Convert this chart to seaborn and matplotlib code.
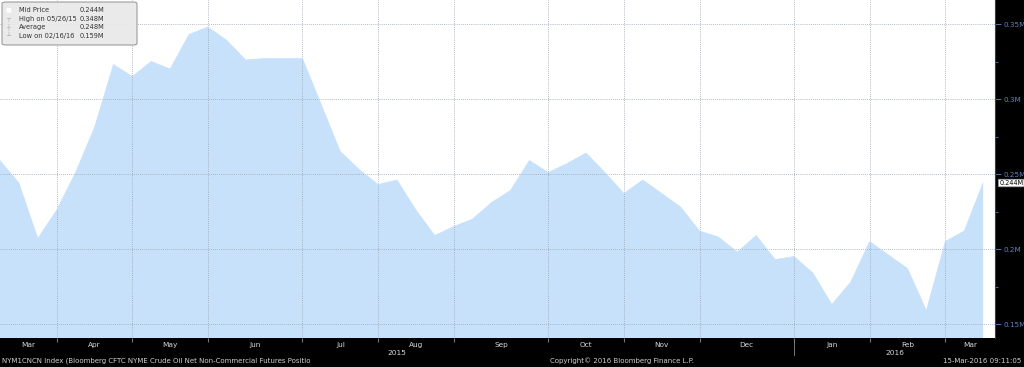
import pandas as pd
import matplotlib
matplotlib.use('Agg')
import matplotlib.pyplot as plt
import matplotlib.transforms as mtransforms
from matplotlib.patches import FancyBboxPatch
import seaborn as sns

# Weekly CFTC as-of dates (Tuesdays) and net non-commercial positions, in millions
start_date = '2015-03-10'
positions = [0.259, 0.244, 0.207, 0.226, 0.251, 0.281, 0.323, 0.315, 0.325, 0.320,
             0.343, 0.348, 0.339, 0.326, 0.327, 0.327, 0.327, 0.296, 0.265, 0.253,
             0.243, 0.246, 0.226, 0.209, 0.215, 0.220, 0.231, 0.239, 0.259, 0.251,
             0.257, 0.264, 0.251, 0.237, 0.246, 0.237, 0.228, 0.212, 0.208, 0.198,
             0.209, 0.193, 0.195, 0.184, 0.163, 0.178, 0.205, 0.196, 0.187, 0.159,
             0.205, 0.212, 0.244]
y_ticks = [0.15, 0.2, 0.25, 0.3, 0.35]
month_labels = ['Mar', 'Apr', 'May', 'Jun', 'Jul', 'Aug', 'Sep', 'Oct', 'Nov', 'Dec',
                'Jan', 'Feb', 'Mar']
year_labels = ['2015', '2016']
legend_rows = [('Mid Price', '0.244M'), ('High on 05/26/15', '0.348M'),
               ('Average', '0.248M'), ('Low on 02/16/16', '0.159M')]

dates = pd.date_range(start_date, periods=len(positions), freq='7D')
df = pd.DataFrame({'date': dates, 'value': positions})

W, H = 1024, 367
fig = plt.figure(figsize=(W / 100, H / 100), dpi=100, facecolor='black')
ax = fig.add_axes([0, (H - 338) / H, 995 / W, 338 / H])
ax.set_facecolor('white')

fill_col = '#c8e1fb'
sns.lineplot(data=df, x='date', y='value', ax=ax, color=fill_col, linewidth=0.5)
ax.fill_between(df['date'], df['value'], 0, color=fill_col, linewidth=0)

xmin = dates[0]
xmax = dates[-1] + pd.Timedelta(days=4.4)
ax.set_xlim(xmin, xmax)
ax.set_ylim(0.1407, 0.366)

# month boundaries = last weekly point of each month
bounds = [d for d, n in zip(dates[:-1], dates[1:]) if d.month != n.month]
ax.set_xticks(bounds)
ax.set_xticklabels([])
ax.tick_params(axis='x', length=3, color='#777777', direction='out')

ax.yaxis.tick_right()
ax.set_yticks(y_ticks)
ax.set_yticklabels([f'{v:g}M' for v in y_ticks])
ax.set_yticks([0.175, 0.225, 0.275, 0.325], minor=True)
ax.tick_params(axis='y', which='both', colors='#5b84c4', labelsize=5.2, length=4, width=0.6, pad=2)
ax.tick_params(axis='y', which='minor', length=2)
ax.set_xlabel('')
ax.set_ylabel('')

ax.grid(True, which='major', linestyle=(0, (1, 1.5)), color='#9aa4b2', linewidth=0.6)
for s in ['top', 'left', 'bottom']:
    ax.spines[s].set_visible(False)
ax.spines['right'].set_color('#2b3f66')
ax.spines['right'].set_linewidth(0.8)

# month and year labels in the black strip
edges = [xmin] + bounds + [xmax]
trans = mtransforms.blended_transform_factory(ax.transData, ax.transAxes)
for lab, a, b in zip(month_labels, edges[:-1], edges[1:]):
    mid = a + (b - a) / 2
    ax.text(mid, -0.022, lab, transform=trans, ha='center', va='center',
            color='#d8d8d8', fontsize=5.3, clip_on=False)
year_split = [b for b in bounds if b.month == 12][0]
for lab, a, b in zip(year_labels, [xmin, year_split], [year_split, xmax]):
    ax.text(a + (b - a) / 2, -0.045, lab, transform=trans, ha='center', va='center',
            color='#d8d8d8', fontsize=5.3, clip_on=False)
ax.plot([year_split, year_split], [-0.01, -0.05], transform=trans, color='#888888',
        linewidth=0.6, clip_on=False)

# last value tag
ax.annotate(f'{positions[-1]:.3f}M', xy=(1.0, positions[-1]),
            xycoords=('axes fraction', 'data'), xytext=(3, 0), textcoords='offset points',
            ha='left', va='center', fontsize=4.7, color='black',
            bbox=dict(boxstyle='round,pad=0.12', fc='white', ec='#999999', lw=0.5),
            annotation_clip=False)

# legend box in the top-left corner
def px(x, y):
    return x / W, 1 - y / H

box = FancyBboxPatch(px(2, 45), 135 / W, 43 / H, boxstyle='round,pad=0,rounding_size=0.004',
                     transform=fig.transFigure, fc='#e9e9e9', ec='#8a8a8a', lw=0.7, alpha=0.95)
fig.patches.append(box)
row_y = [10, 19, 27, 36]
icons = ['■', '┬', '┼', '┴']
for (lab, val), yy, ic in zip(legend_rows, row_y, icons):
    fig.text(*px(19, yy), lab, ha='left', va='center', fontsize=4.8, color='#333333')
    fig.text(*px(104, yy), val, ha='right', va='center', fontsize=4.8, color='#333333')
    fig.text(*px(8, yy), ic, ha='center', va='center', fontsize=4.5,
             color='white' if ic == '■' else '#aaaaaa')

# footer
fig.text(*px(2, 361), 'NYM1CNCN Index (Bloomberg CFTC NYME Crude Oil Net Non-Commercial Futures Positio',
         ha='left', va='center', fontsize=5.0, color='#cfcfcf')
fig.text(*px(550, 361), 'Copyright\u00a9 2016 Bloomberg Finance L.P.',
         ha='left', va='center', fontsize=5.0, color='#cfcfcf')
fig.text(*px(1021, 361), '15-Mar-2016 09:11:05', ha='right', va='center',
         fontsize=5.0, color='#cfcfcf')

fig.savefig('out.png', dpi=100, facecolor='black')
